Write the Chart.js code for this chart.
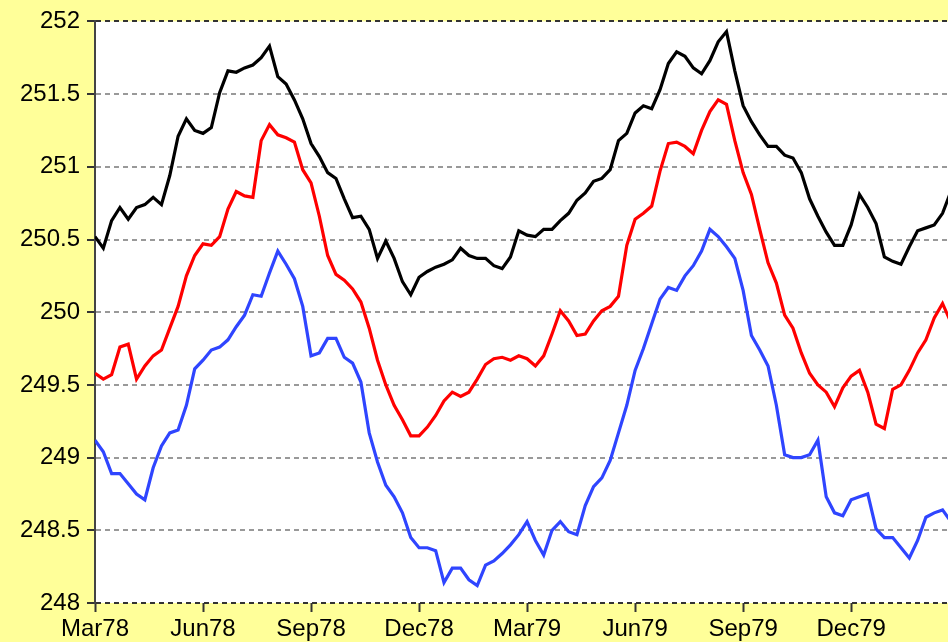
<!DOCTYPE html>
<html>
<head>
<meta charset="utf-8">
<script src="https://cdn.jsdelivr.net/npm/chart.js@4.4.1/dist/chart.umd.min.js"></script>
<style>
  html, body { margin: 0; padding: 0; background: #ffff99; }
  #wrap { width: 948px; height: 642px; }
</style>
</head>
<body>
<div id="wrap"><canvas id="c" width="948" height="642"></canvas></div>
<script>
// Quarter labels on the time axis (first tick = March 1978)
const quarterLabels = ['Mar78', 'Jun78', 'Sep78', 'Dec78', 'Mar79', 'Jun79', 'Sep79', 'Dec79'];

// Weekly readings, starting the first week of March 1978
const upperSeries = [
  250.52, 250.44, 250.63, 250.72, 250.64, 250.72, 250.74, 250.79, 250.74, 250.94,
  251.21, 251.33, 251.25, 251.23, 251.27, 251.51, 251.66, 251.65, 251.68, 251.70,
  251.75, 251.83, 251.62, 251.57, 251.46, 251.33, 251.16, 251.07, 250.96, 250.92,
  250.78, 250.65, 250.66, 250.57, 250.37, 250.49, 250.37, 250.21, 250.12, 250.24,
  250.28, 250.31, 250.33, 250.36, 250.44, 250.39, 250.37, 250.37, 250.32, 250.30,
  250.38, 250.56, 250.53, 250.52, 250.57, 250.57, 250.63, 250.68, 250.77, 250.82,
  250.90, 250.92, 250.98, 251.18, 251.23, 251.37, 251.42, 251.40, 251.53, 251.71,
  251.79, 251.76, 251.68, 251.64, 251.73, 251.86, 251.93, 251.66, 251.42, 251.31,
  251.22, 251.14, 251.14, 251.08, 251.06, 250.96, 250.78, 250.66, 250.55, 250.46,
  250.46, 250.60, 250.81, 250.72, 250.61, 250.38, 250.35, 250.33, 250.45, 250.56,
  250.58, 250.60, 250.68, 250.83
];

const middleSeries = [
  249.58, 249.54, 249.57, 249.76, 249.78, 249.54, 249.63, 249.70, 249.74, 249.89,
  250.04, 250.25, 250.39, 250.47, 250.46, 250.52, 250.71, 250.83, 250.80, 250.79,
  251.18, 251.29, 251.22, 251.20, 251.17, 250.98, 250.89, 250.66, 250.39, 250.26,
  250.22, 250.16, 250.07, 249.89, 249.67, 249.50, 249.36, 249.26, 249.15, 249.15,
  249.21, 249.29, 249.39, 249.45, 249.42, 249.45, 249.54, 249.64, 249.68, 249.69,
  249.67, 249.70, 249.68, 249.63, 249.70, 249.85, 250.01, 249.94, 249.84, 249.85,
  249.94, 250.01, 250.04, 250.11, 250.46, 250.64, 250.68, 250.73, 250.97, 251.16,
  251.17, 251.14, 251.09, 251.25, 251.38, 251.46, 251.43, 251.18, 250.96, 250.81,
  250.57, 250.34, 250.20, 249.98, 249.89, 249.72, 249.58, 249.50, 249.45, 249.35,
  249.48, 249.56, 249.60, 249.45, 249.23, 249.20, 249.47, 249.50, 249.60, 249.72,
  249.81, 249.96, 250.06, 249.93
];

const lowerSeries = [
  249.12, 249.04, 248.89, 248.89, 248.82, 248.75, 248.71, 248.93, 249.08, 249.17,
  249.19, 249.36, 249.61, 249.67, 249.74, 249.76, 249.81, 249.90, 249.98, 250.12,
  250.11, 250.27, 250.42, 250.33, 250.23, 250.04, 249.70, 249.72, 249.82, 249.82,
  249.69, 249.65, 249.52, 249.17, 248.97, 248.81, 248.73, 248.62, 248.45, 248.38,
  248.38, 248.36, 248.14, 248.24, 248.24, 248.16, 248.12, 248.26, 248.29, 248.34,
  248.40, 248.47, 248.56, 248.43, 248.33, 248.50, 248.56, 248.49, 248.47, 248.67,
  248.80, 248.86, 248.98, 249.17, 249.36, 249.60, 249.75, 249.92, 250.09, 250.17,
  250.15, 250.25, 250.32, 250.42, 250.57, 250.52, 250.45, 250.37, 250.15, 249.84,
  249.74, 249.63, 249.36, 249.02, 249.00, 249.00, 249.02, 249.12, 248.73, 248.62,
  248.60, 248.71, 248.73, 248.75, 248.51, 248.45, 248.45, 248.38, 248.31, 248.43,
  248.59, 248.62, 248.64, 248.56
];

// x position of each weekly reading, in months after March 1978
const MONTHS_PER_WEEK = 12 / 52;
const toPoints = arr => arr.map((v, i) => ({ x: i * MONTHS_PER_WEEK, y: v }));

// White plotting area over the yellow page
const plotBackground = {
  id: 'plotBackground',
  beforeDraw(chart) {
    const { ctx, chartArea: a } = chart;
    ctx.save();
    ctx.fillStyle = '#ffffff';
    ctx.fillRect(a.left, a.top, a.right - a.left, a.bottom - a.top);
    ctx.restore();
  }
};

const axisFont = { family: '"Liberation Sans", Arial, sans-serif', size: 24 };

new Chart(document.getElementById('c'), {
  type: 'line',
  data: {
    datasets: [
      { data: toPoints(upperSeries), borderColor: '#000000' },
      { data: toPoints(middleSeries), borderColor: '#ff0000' },
      { data: toPoints(lowerSeries), borderColor: '#2f45ff' }
    ]
  },
  options: {
    responsive: false,
    devicePixelRatio: 1,
    animation: false,
    events: [],
    layout: { padding: { top: 20, right: 0, left: 0, bottom: 0 } },
    elements: {
      line: { borderWidth: 3.2, tension: 0, fill: false },
      point: { radius: 0 }
    },
    plugins: { legend: { display: false }, tooltip: { enabled: false } },
    scales: {
      x: {
        type: 'linear',
        min: 0,
        max: 23.69,
        afterBuildTicks(scale) {
          scale.ticks = quarterLabels.map((_, k) => ({ value: k * 3 }));
        },
        afterFit(scale) { scale.height = 39; },
        ticks: {
          autoSkip: false,
          maxRotation: 0,
          padding: 3,
          color: '#000',
          font: axisFont,
          callback: v => quarterLabels[Math.round(v / 3)]
        },
        grid: {
          drawOnChartArea: false,
          drawTicks: true,
          tickLength: 9,
          tickColor: '#333',
          tickWidth: 2
        },
        border: { display: false }
      },
      y: {
        min: 248,
        max: 252,
        afterFit(scale) { scale.width = 95; },
        ticks: {
          stepSize: 0.5,
          padding: 7,
          color: '#000',
          font: axisFont,
          callback: v => String(Number(v))
        },
        grid: {
          color: ctx => (ctx.tick && (ctx.tick.value === 252 || ctx.tick.value === 248)) ? '#333' : '#999',
          lineWidth: 2,
          tickLength: 8,
          tickColor: '#333',
          tickWidth: 2
        },
        border: { display: true, color: '#444', width: 2, dash: [5, 4] }
      }
    }
  },
  plugins: [plotBackground]
});
</script>
</body>
</html>
